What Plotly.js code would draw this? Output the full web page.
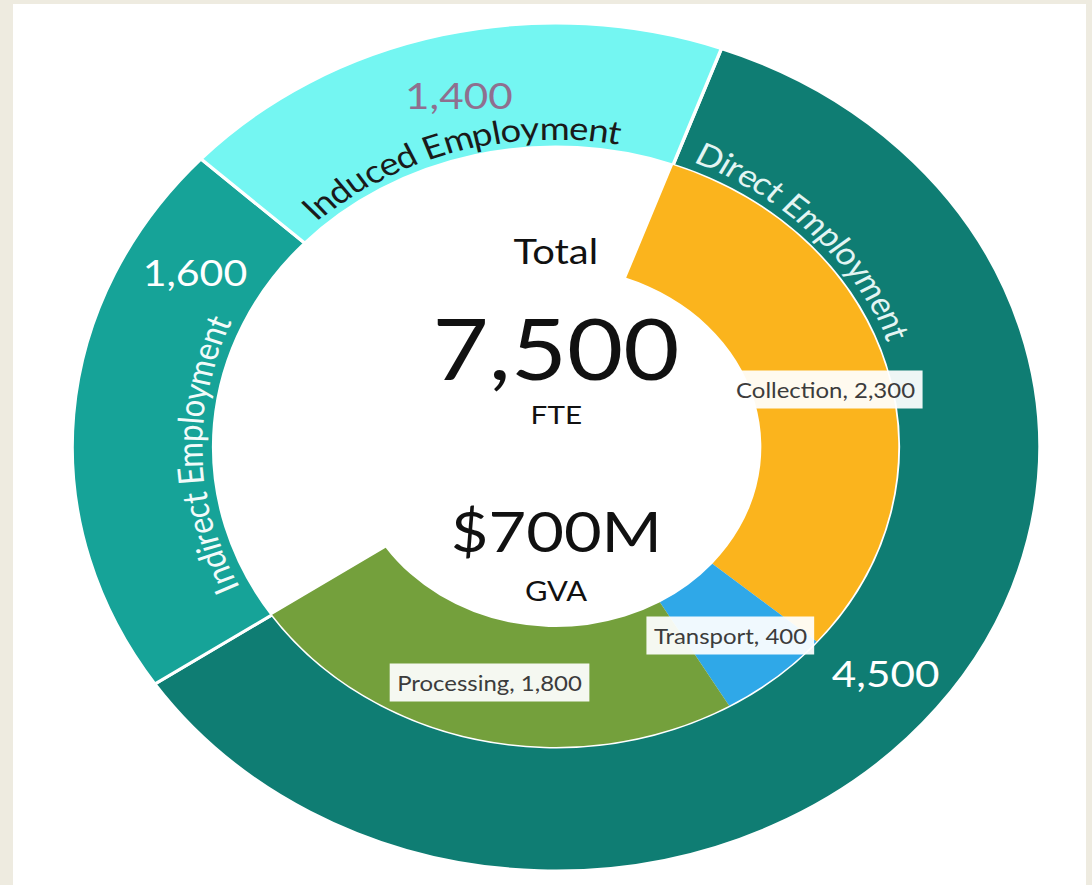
<!DOCTYPE html>
<html><head><meta charset="utf-8">
<script src="https://cdn.plot.ly/plotly-3.0.1.min.js"></script>
<style>
html,body{margin:0;padding:0;background:#eeebe0;width:1092px;height:885px;overflow:hidden;}
#panel{position:absolute;left:13px;top:4px;width:1073px;height:881px;background:#ffffff;}
#chart{position:absolute;left:0;top:0;width:957px;height:885px;transform:scaleX(1.1411);transform-origin:0 0;}
</style></head><body>
<div id="panel"></div><div id="chart"></div>
<script>
// ---- data ----
const outerLabels = ["Direct Employment", "Indirect Employment", "Induced Employment"];
const outerValues = [4500, 1600, 1400];
const innerLabels = ["Collection", "Transport", "Processing"];
const innerValues = [2300, 400, 1800];
const centerTitle = "Total";
const totalFTE = "7,500";
const fteUnit = "FTE";
const totalGVA = "$700M";
const gvaUnit = "GVA";

// ---- geometry / style ----
const W = 957, H = 885;
const CX = 487.2, CY = 447;
const R_OUT = 424, R_IN = 300, R_HOLE = 180;
const ROT = 20;
const FONT = "Lato, 'Open Sans', sans-serif";
const outerColors = ["#0f7d73", "#16a398", "#74f6f2"];
const innerColors = ["#fbb41d", "#2fa8e8", "#74a03c"];
// value label: fraction along slice, radius, color, size
const valueStyle = [
  {frac: 0.5, r: 366, color: "#ffffff", size: 37},
  {frac: 0.82, r: 362, color: "#ffffff", size: 36},
  {frac: 0.5, r: 363, color: "#8f6f8f", size: 37}
];
// arc name labels: center angle (deg, clockwise from top), radius, color, size
const nameStyle = [
  {theta: 46.5, r: 321, color: "#e3f5f3", size: 31},
  {theta: 268.5, r: 322, color: "#f2fbfa", size: 31},
  {theta: -16.3, r: 320, color: "#1a1a1a", size: 32}
];

function pt(thetaDeg, r) {
  const t = thetaDeg * Math.PI / 180;
  return {x: (CX + r * Math.sin(t)) / W, y: 1 - (CY - r * Math.cos(t)) / H};
}
function domainFor(r) {
  return {x: [(CX - r) / W, (CX + r) / W], y: [1 - (CY + r) / H, 1 - (CY - r) / H]};
}
const total = outerValues.reduce((a, b) => a + b, 0);
const degPer = 360 / total;
function sliceAngles(vals) {
  let a = ROT; const out = [];
  vals.forEach(v => { out.push({start: a, end: a + v * degPer}); a += v * degPer; });
  return out;
}
const fmt = v => v.toLocaleString("en-US");

const innerAll = innerValues.concat([total - innerValues.reduce((a, b) => a + b, 0)]);
const innerLabelsAll = innerLabels.concat([" "]);

const traces = [
  {
    type: "pie", values: outerValues, labels: outerLabels, sort: false, direction: "clockwise",
    rotation: ROT, hole: R_IN / R_OUT, domain: domainFor(R_OUT), textinfo: "none", hoverinfo: "none",
    marker: {colors: outerColors, line: {color: "#ffffff", width: 3}}, showlegend: false
  },
  {
    type: "pie", values: innerAll, labels: innerLabelsAll, sort: false, direction: "clockwise",
    rotation: ROT, hole: R_HOLE / R_IN, domain: domainFor(R_IN), textinfo: "none", hoverinfo: "none",
    marker: {colors: innerColors.concat(["rgba(0,0,0,0)"]), line: {color: "rgba(0,0,0,0)", width: 0}},
    showlegend: false
  }
];

const ann = [];
// center texts
const centerItems = [
  {text: centerTitle, dy: -197, size: 35},
  {text: totalFTE, dy: -100, size: 85},
  {text: fteUnit, dy: -33, size: 26},
  {text: totalGVA, dy: 83, size: 57},
  {text: gvaUnit, dy: 143, size: 27}
];
centerItems.forEach(c => {
  ann.push({x: CX / W, y: 1 - (CY + c.dy) / H, xref: "paper", yref: "paper", text: c.text,
    showarrow: false, xanchor: "center", yanchor: "middle", font: {family: FONT, size: c.size, color: "#111111"}});
});

// outer values
const oa = sliceAngles(outerValues);
outerValues.forEach((v, i) => {
  const s = valueStyle[i];
  const th = oa[i].start + (oa[i].end - oa[i].start) * s.frac;
  const p = pt(th, s.r);
  ann.push({x: p.x, y: p.y, xref: "paper", yref: "paper", text: fmt(v), showarrow: false,
    xanchor: "center", yanchor: "middle", font: {family: FONT, size: s.size, color: s.color}});
});

// arc text for outer names
const cv = document.createElement("canvas").getContext("2d");
function arcText(text, st) {
  cv.font = st.size + "px Lato";
  const widths = Array.from(text).map(ch => cv.measureText(ch).width);
  const totalW = widths.reduce((a, b) => a + b, 0);
  const spanDeg = totalW / st.r * 180 / Math.PI;
  let acc = 0;
  Array.from(text).forEach((ch, k) => {
    const th = st.theta - spanDeg / 2 + (acc + widths[k] / 2) / st.r * 180 / Math.PI;
    acc += widths[k];
    if (ch === " ") return;
    const p = pt(th, st.r);
    ann.push({x: p.x, y: p.y, xref: "paper", yref: "paper", text: ch, showarrow: false,
      xanchor: "center", yanchor: "middle", textangle: th,
      font: {family: FONT, size: st.size, color: st.color}});
  });
}
outerLabels.forEach((l, i) => arcText(l, nameStyle[i]));

// inner labels
const ia = sliceAngles(innerValues);
innerValues.forEach((v, i) => {
  const th = (ia[i].start + ia[i].end) / 2 + 1;
  const p = pt(th, (R_IN + R_HOLE) / 2 + 3);
  ann.push({x: p.x, y: p.y, xref: "paper", yref: "paper", text: innerLabels[i] + ", " + fmt(v),
    showarrow: false, xanchor: "center", yanchor: "middle", bgcolor: "rgba(255,255,255,0.93)",
    borderpad: 6, font: {family: FONT, size: 21, color: "#3c3c3c"}});
});

const layout = {
  width: W, height: H, margin: {l: 0, r: 0, t: 0, b: 0},
  paper_bgcolor: "rgba(0,0,0,0)", plot_bgcolor: "rgba(0,0,0,0)",
  showlegend: false, annotations: ann
};
Plotly.newPlot("chart", traces, layout, {staticPlot: true, displayModeBar: false});
</script>
</body></html>
